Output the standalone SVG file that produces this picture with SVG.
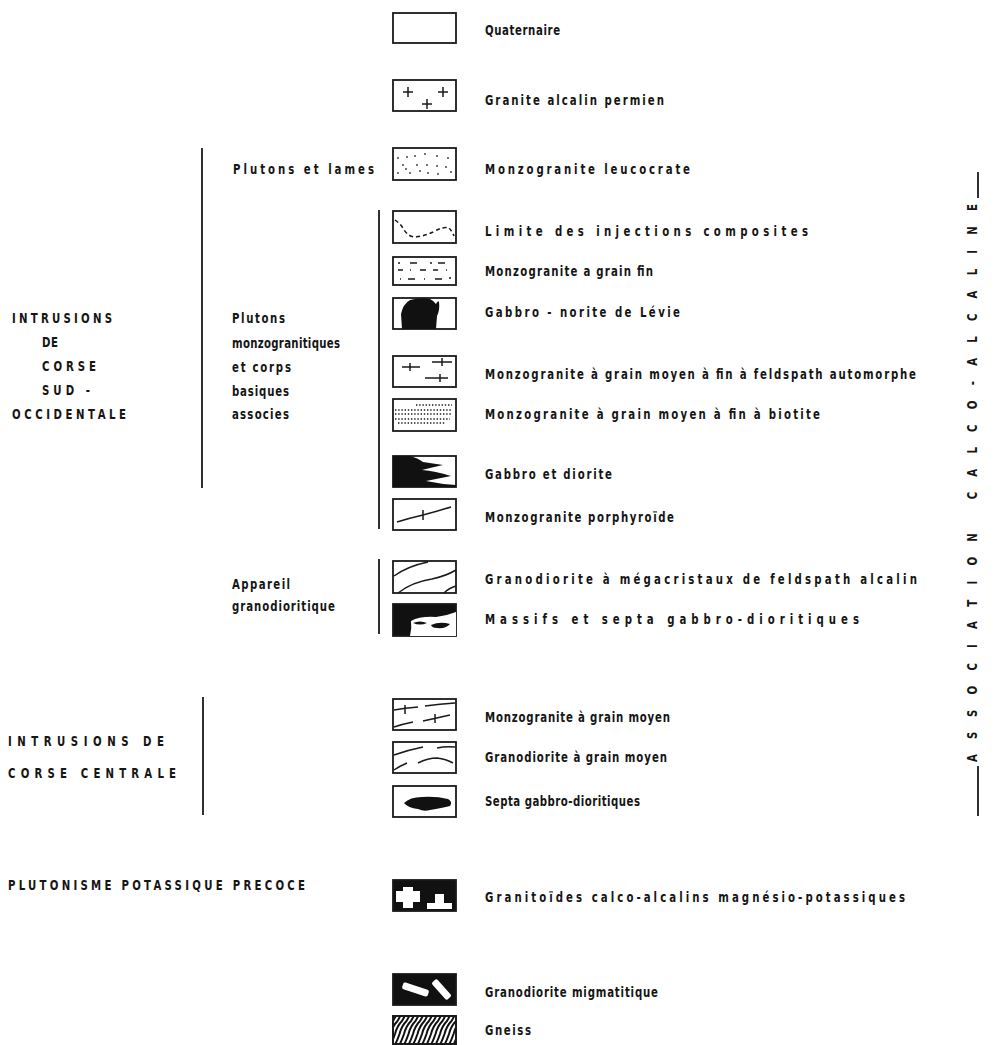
<svg xmlns="http://www.w3.org/2000/svg" width="996" height="1045" viewBox="0 0 996 1045">
<defs>
<style>
.t{font-family:"DejaVu Sans Condensed","DejaVu Sans",sans-serif;font-weight:bold;font-size:14.5px;fill:#151515}
.bx{fill:#fff;stroke:#1a1a1a;stroke-width:1.8}
.bk{fill:#111;stroke:#1a1a1a;stroke-width:1.8}
.ln{fill:none;stroke:#1a1a1a;stroke-width:1.5}
.bar{stroke:#1a1a1a;stroke-width:1.8}
.dot{fill:#333}
.wh{fill:#fff}
</style>
<clipPath id="gc"><rect x="393" y="1016" width="63" height="28"/></clipPath>
</defs>
<rect width="996" height="1045" fill="#fff"/>

<g id="brackets">
<line class="bar" x1="202" y1="148" x2="202" y2="488"/>
<line class="bar" x1="379" y1="210" x2="379" y2="529"/>
<line class="bar" x1="379" y1="559" x2="379" y2="634"/>
<line class="bar" x1="203" y1="697" x2="203" y2="815"/>
<line class="bar" x1="978" y1="172" x2="978" y2="198"/>
<line class="bar" x1="978" y1="766" x2="978" y2="816"/>
</g>

<g id="group-labels">
<text class="t" transform="matrix(0.78,0,0,1,233,174)" textLength="180.8" lengthAdjust="spacing">Plutons et lames</text>
<text class="t" transform="matrix(0.78,0,0,1,232,323)" textLength="68" lengthAdjust="spacing">Plutons</text>
<text class="t" transform="matrix(0.78,0,0,1,232,348)" textLength="138.5" lengthAdjust="spacing">monzogranitiques</text>
<text class="t" transform="matrix(0.78,0,0,1,232,372)" textLength="75.6" lengthAdjust="spacing">et corps</text>
<text class="t" transform="matrix(0.78,0,0,1,232,396)" textLength="73.1" lengthAdjust="spacing">basiques</text>
<text class="t" transform="matrix(0.78,0,0,1,232,419)" textLength="73.1" lengthAdjust="spacing">associes</text>
<text class="t" transform="matrix(0.78,0,0,1,232,589)" textLength="74.4" lengthAdjust="spacing">Appareil</text>
<text class="t" transform="matrix(0.78,0,0,1,232,611)" textLength="132" lengthAdjust="spacing">granodioritique</text>
<text class="t" transform="matrix(0.78,0,0,1,12,323)" textLength="128.2" lengthAdjust="spacing">INTRUSIONS</text>
<text class="t" transform="matrix(0.78,0,0,1,42,347)" textLength="20.5" lengthAdjust="spacing">DE</text>
<text class="t" transform="matrix(0.78,0,0,1,42,371)" textLength="69.2" lengthAdjust="spacing">CORSE</text>
<text class="t" transform="matrix(0.78,0,0,1,42,395)" textLength="61.5" lengthAdjust="spacing">SUD -</text>
<text class="t" transform="matrix(0.78,0,0,1,12,419)" textLength="146.2" lengthAdjust="spacing">OCCIDENTALE</text>
<text class="t" transform="matrix(0.78,0,0,1,8,746)" textLength="200" lengthAdjust="spacing">INTRUSIONS   DE</text>
<text class="t" transform="matrix(0.78,0,0,1,8,778)" textLength="215.4" lengthAdjust="spacing">CORSE   CENTRALE</text>
<text class="t" transform="matrix(0.78,0,0,1,8,890)" textLength="380.8" lengthAdjust="spacing">PLUTONISME  POTASSIQUE   PRECOCE</text>
<text class="t" transform="translate(977,762) rotate(-90) scale(0.78,1)" textLength="715.4" lengthAdjust="spacing">ASSOCIATION CALCO-ALCALINE</text>
</g>

<g id="n1"><rect class="bx" x="393" y="13" width="63" height="30"/>
<text class="t" transform="matrix(0.78,0,0,1,485,35)" textLength="96.2" lengthAdjust="spacing">Quaternaire</text></g>

<g id="n2"><rect class="bx" x="393" y="80" width="63" height="31"/>
<path class="ln" d="M403,92h10M408,87v10M438,92h10M443,87v10M422,104h10M427,99v10"/>
<text class="t" transform="matrix(0.78,0,0,1,485,105)" textLength="229.5" lengthAdjust="spacing">Granite alcalin permien</text></g>

<g id="n3"><rect class="bx" x="393" y="148" width="63" height="32"/>
<g class="dot"><circle cx="398" cy="158" r="0.9"/><circle cx="407" cy="157" r="0.9"/><circle cx="415" cy="156" r="0.9"/><circle cx="425" cy="154" r="0.9"/><circle cx="437" cy="156" r="0.9"/><circle cx="448" cy="158" r="0.9"/><circle cx="403" cy="165" r="0.9"/><circle cx="417" cy="165" r="0.9"/><circle cx="427" cy="165" r="0.9"/><circle cx="437" cy="166" r="0.9"/><circle cx="446" cy="167" r="0.9"/><circle cx="398" cy="173" r="0.9"/><circle cx="410" cy="173" r="0.9"/><circle cx="420" cy="171" r="0.9"/><circle cx="428" cy="173" r="0.9"/><circle cx="438" cy="174" r="0.9"/><circle cx="451" cy="172" r="0.9"/><circle cx="406" cy="169" r="0.9"/></g>
<text class="t" transform="matrix(0.78,0,0,1,485,174)" textLength="262.8" lengthAdjust="spacing">Monzogranite leucocrate</text></g>

<g id="n4"><rect class="bx" x="393" y="211" width="63" height="32"/>
<path class="ln" stroke-dasharray="4 3" d="M395,220 Q401,224 404,230 Q409,237 415,237 Q425,236 433,232 Q443,226 449,228 Q452,231 454,236"/>
<text class="t" transform="matrix(0.78,0,0,1,485,236)" textLength="414.1" lengthAdjust="spacing">Limite des injections composites</text></g>

<g id="n5"><rect class="bx" x="393" y="257" width="63" height="28"/>
<path class="ln" d="M398,263h2M410,263h7M430,263h2M438,263h7M398,270h5M410,270h1M420,270h6M433,270h5M446,270h1M400,279h1M408,279h7M424,279h1M435,279h7M449,278h2"/>
<text class="t" transform="matrix(0.78,0,0,1,485,276)" textLength="215.4" lengthAdjust="spacing">Monzogranite a grain fin</text></g>

<g id="n6"><rect class="bx" x="393" y="298" width="63" height="31"/>
<path fill="#111" d="M402,329 L401,314 Q403,304 410,300 Q420,297 430,299 Q434,301 436,304 Q438,300 439,302 Q440,310 437,316 L436,329 Z"/>
<text class="t" transform="matrix(0.78,0,0,1,485,317)" textLength="250" lengthAdjust="spacing">Gabbro - norite de Lévie</text></g>

<g id="n7"><rect class="bx" x="393" y="356" width="63" height="31"/>
<path class="ln" d="M402,367h18M410,363v8M432,362h20M442,358v8M425,378h23M440,374v8"/>
<text class="t" transform="matrix(0.78,0,0,1,485,379)" textLength="552.6" lengthAdjust="spacing">Monzogranite à grain moyen à fin à feldspath automorphe</text></g>

<g id="n8"><rect class="bx" x="393" y="399" width="63" height="32"/>
<path class="ln" stroke-width="1.3" stroke-dasharray="1.4 1.8" d="M416,405H452M395,410H452M395,414H452M395,419H450M398,423H446"/>
<text class="t" transform="matrix(0.78,0,0,1,485,419)" textLength="429.5" lengthAdjust="spacing">Monzogranite à grain moyen à fin à biotite</text></g>

<g id="n9"><rect class="bx" x="393" y="456" width="63" height="31"/>
<path fill="#111" d="M393,456 L410,456 Q418,458 423,462 L443,465 L430,468 L422,470 Q435,471 451,476 L436,479 L426,481 Q440,484 456,485 L456,487 L393,487 Z"/>
<text class="t" transform="matrix(0.78,0,0,1,485,479)" textLength="162.8" lengthAdjust="spacing">Gabbro et diorite</text></g>

<g id="n10"><rect class="bx" x="393" y="499" width="63" height="31"/>
<path class="ln" d="M397,522 Q410,518 423,515 Q438,511 451,507"/>
<path class="ln" stroke-width="2.2" d="M423,510v10"/>
<text class="t" transform="matrix(0.78,0,0,1,485,522)" textLength="242.3" lengthAdjust="spacing">Monzogranite porphyroïde</text></g>

<g id="n11"><rect class="bx" x="393" y="561" width="63" height="32"/>
<path class="ln" d="M394,576 Q408,566 428,562 M398,593 Q412,582 432,579 Q446,576 456,570 M444,593 Q449,588 456,586"/>
<text class="t" transform="matrix(0.78,0,0,1,485,584)" textLength="553.8" lengthAdjust="spacing">Granodiorite à mégacristaux de feldspath alcalin</text></g>

<g id="n12"><rect class="bk" x="393" y="604" width="63" height="32"/>
<path class="wh" d="M410,636 Q412,628 411,621 Q420,616 436,617 Q446,616 456,612 L456,636 Z"/>
<path fill="#111" d="M413,623 Q420,620 427,623 Q420,626 413,623 Z M431,625 Q440,621 450,624 Q446,629 437,628 Q432,628 431,625 Z"/>
<text class="t" transform="matrix(0.78,0,0,1,485,624)" textLength="479.5" lengthAdjust="spacing">Massifs et septa gabbro-dioritiques</text></g>

<g id="n13"><rect class="bx" x="393" y="699" width="63" height="31"/>
<path class="ln" d="M394,710 Q405,708 418,707 M425,706 Q440,704 455,703 M394,727 Q403,724 413,722 M423,721 Q437,718 450,715 M405,705v9 M435,714v9"/>
<text class="t" transform="matrix(0.78,0,0,1,485,722)" textLength="237.2" lengthAdjust="spacing">Monzogranite à grain moyen</text></g>

<g id="n14"><rect class="bx" x="393" y="742" width="63" height="31"/>
<path class="ln" d="M394,755 Q408,750 423,747 M437,748 Q446,746 455,747 M394,770 Q400,766 407,763 M418,763 Q428,758 437,758 Q446,759 453,763"/>
<text class="t" transform="matrix(0.78,0,0,1,485,762)" textLength="233.3" lengthAdjust="spacing">Granodiorite à grain moyen</text></g>

<g id="n15"><rect class="bx" x="393" y="786" width="63" height="31"/>
<path fill="#111" d="M404,803 Q410,797 422,797 Q436,796 448,799 Q453,802 450,806 Q442,808 430,810 Q424,812 418,809 Q408,808 404,803 Z"/>
<text class="t" transform="matrix(0.78,0,0,1,485,806)" textLength="198.7" lengthAdjust="spacing">Septa gabbro-dioritiques</text></g>

<g id="n16"><rect class="bk" x="393" y="880" width="63" height="31"/>
<path class="wh" d="M403,887h10v4h7v11h-7v6h-10v-6h-7v-11h7z"/>
<path class="wh" d="M435,894h9v9h8v6h-25v-6h8z"/>
<text class="t" transform="matrix(0.78,0,0,1,485,902)" textLength="538.5" lengthAdjust="spacing">Granitoïdes calco-alcalins magnésio-potassiques</text></g>

<g id="n17"><rect class="bk" x="393" y="974" width="63" height="31"/>
<rect class="wh" x="402" y="986" width="27" height="7" rx="2" transform="rotate(18 415.5 989.5)"/>
<rect class="wh" x="430" y="986" width="23" height="7" rx="2" transform="rotate(48 441.5 989.5)"/>
<text class="t" transform="matrix(0.78,0,0,1,485,997)" textLength="221.8" lengthAdjust="spacing">Granodiorite migmatitique</text></g>

<g id="n18">
<rect class="bx" x="393" y="1016" width="63" height="28"/>
<g clip-path="url(#gc)" fill="none" stroke="#111" stroke-width="2">
<path d="M380,1048 q4,-8 6,-14 q2,-8 7,-13 q3,-5 5,-10 M384.5,1048 q4,-8 6,-14 q2,-8 7,-13 q3,-5 5,-10 M389,1048 q4,-8 6,-14 q2,-8 7,-13 q3,-5 5,-10 M393.5,1048 q4,-8 6,-14 q2,-8 7,-13 q3,-5 5,-10 M398,1048 q4,-8 6,-14 q2,-8 7,-13 q3,-5 5,-10 M402.5,1048 q4,-8 6,-14 q2,-8 7,-13 q3,-5 5,-10 M407,1048 q4,-8 6,-14 q2,-8 7,-13 q3,-5 5,-10 M411.5,1048 q4,-8 6,-14 q2,-8 7,-13 q3,-5 5,-10 M416,1048 q4,-8 6,-14 q2,-8 7,-13 q3,-5 5,-10 M420.5,1048 q4,-8 6,-14 q2,-8 7,-13 q3,-5 5,-10 M425,1048 q4,-8 6,-14 q2,-8 7,-13 q3,-5 5,-10 M429.5,1048 q4,-8 6,-14 q2,-8 7,-13 q3,-5 5,-10 M434,1048 q4,-8 6,-14 q2,-8 7,-13 q3,-5 5,-10 M438.5,1048 q4,-8 6,-14 q2,-8 7,-13 q3,-5 5,-10 M443,1048 q4,-8 6,-14 q2,-8 7,-13 q3,-5 5,-10 M447.5,1048 q4,-8 6,-14 q2,-8 7,-13 q3,-5 5,-10 M452,1048 q4,-8 6,-14 q2,-8 7,-13 q3,-5 5,-10 M456.5,1048 q4,-8 6,-14 q2,-8 7,-13 q3,-5 5,-10"/>
</g>
<rect x="393" y="1016" width="63" height="28" fill="none" stroke="#1a1a1a" stroke-width="1.8"/>
<text class="t" transform="matrix(0.78,0,0,1,485,1035)" textLength="59" lengthAdjust="spacing">Gneiss</text></g>
</svg>
